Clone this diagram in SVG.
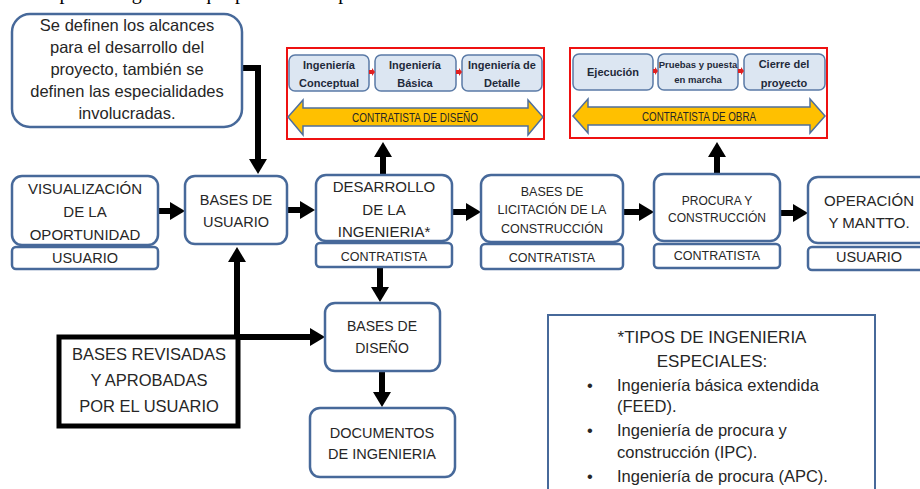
<svg xmlns="http://www.w3.org/2000/svg" width="920" height="489" viewBox="0 0 920 489">
<defs>
<style>
text{font-family:"Liberation Sans",Arial,sans-serif;fill:#262626;text-anchor:middle}
.node{fill:#fff;stroke:#47699a;stroke-width:2.5}
.sub{fill:#fff;stroke:#47699a;stroke-width:2.5}
.inner{fill:#dce6f2;stroke:#5a7aa6;stroke-width:1.5}
.red{fill:none;stroke:#ee1111;stroke-width:2}
.yel{fill:#ffc000;stroke:#4f6f9c;stroke-width:1.5}
.con{fill:none;stroke:#000;stroke-width:6}
.m{font-size:15px}
.i{font-size:11px;font-weight:bold;fill:#1f2a3a}
.n{font-size:16.5px;text-anchor:start}
</style>
<marker id="ah" markerUnits="userSpaceOnUse" viewBox="0 0 15 18" markerWidth="15" markerHeight="18" refX="1" refY="9" orient="auto">
<path d="M0,0 L15,9 L0,18 Z" fill="#000"/>
</marker>
</defs>
<rect width="920" height="489" fill="#fff"/>

<text x="20" y="-1" style="font-family:'Liberation Serif',serif;font-size:20px;text-anchor:start;fill:#000">los tipos de ingeniería que podrían ser aplicados.</text>

<g id="connectors">
<path class="con" d="M242,68 H258 V160" marker-end="url(#ah)"/>
<line class="con" x1="158" y1="211" x2="171" y2="211" marker-end="url(#ah)"/>
<line class="con" x1="287" y1="210" x2="301" y2="210" marker-end="url(#ah)"/>
<line class="con" x1="452" y1="212" x2="467" y2="212" marker-end="url(#ah)"/>
<line class="con" x1="623" y1="212" x2="640" y2="212" marker-end="url(#ah)"/>
<line class="con" x1="780" y1="213" x2="794" y2="213" marker-end="url(#ah)"/>
<line class="con" x1="383" y1="175" x2="383" y2="156" marker-end="url(#ah)"/>
<line class="con" x1="717" y1="174" x2="717" y2="156" marker-end="url(#ah)"/>
<line class="con" x1="237" y1="337" x2="237" y2="261" marker-end="url(#ah)"/>
<line class="con" x1="236" y1="337" x2="311" y2="337" marker-end="url(#ah)"/>
<line class="con" x1="380" y1="268" x2="380" y2="288" marker-end="url(#ah)"/>
<line class="con" x1="382" y1="371" x2="382" y2="393" marker-end="url(#ah)"/>
</g>

<g id="callout">
<rect x="12" y="14" width="230" height="113" rx="18" class="node"/>
<text x="127" y="31" style="font-size:16.5px">Se definen los alcances</text>
<text x="127" y="53" style="font-size:16.5px">para el desarrollo del</text>
<text x="127" y="75" style="font-size:16.5px">proyecto, también se</text>
<text x="127" y="97" style="font-size:16.5px">definen las especialidades</text>
<text x="127" y="119" style="font-size:16.5px">involucradas.</text>
</g>

<g id="contratista-diseno">
<rect x="287" y="48" width="257" height="91" class="red"/>
<rect x="289" y="55" width="80" height="36" rx="6" class="inner"/>
<rect x="375" y="55" width="81" height="36" rx="6" class="inner"/>
<rect x="462" y="55" width="80" height="36" rx="6" class="inner"/>
<path d="M369,70 h3 v-2 l3,4 l-3,4 v-2 h-3 z" fill="#e02020"/>
<path d="M456,70 h3 v-2 l3,4 l-3,4 v-2 h-3 z" fill="#e02020"/>
<text x="329" y="69" class="i">Ingeniería</text>
<text x="329" y="87" class="i">Conceptual</text>
<text x="415" y="69" class="i">Ingeniería</text>
<text x="415" y="87" class="i">Básica</text>
<text x="502" y="69" class="i">Ingeniería de</text>
<text x="502" y="87" class="i">Detalle</text>
<path class="yel" d="M288,117 L303,100 L303,108 L528,108 L528,100 L543,117 L528,135 L528,126 L303,126 L303,135 Z"/>
<text x="415" y="122" style="font-size:13px" textLength="126" lengthAdjust="spacingAndGlyphs">CONTRATISTA DE DISEÑO</text>
</g>

<g id="contratista-obra">
<rect x="570" y="48" width="257" height="90" class="red"/>
<rect x="573" y="54" width="80" height="36" rx="6" class="inner"/>
<rect x="658" y="54" width="80" height="36" rx="6" class="inner"/>
<rect x="744" y="54" width="81" height="36" rx="6" class="inner"/>
<path d="M653,69 h2 v-2 l3,4 l-3,4 v-2 h-2 z" fill="#e02020"/>
<path d="M738,69 h3 v-2 l3,4 l-3,4 v-2 h-3 z" fill="#e02020"/>
<text x="613" y="76" class="i">Ejecución</text>
<text x="698" y="68" class="i" style="font-size:9.5px">Pruebas y puesta</text>
<text x="698" y="83" class="i" style="font-size:9.5px">en marcha</text>
<text x="784" y="68" class="i">Cierre del</text>
<text x="784" y="87" class="i">proyecto</text>
<path class="yel" d="M573,116 L588,99 L588,107 L810,107 L810,99 L825,116 L810,133 L810,125 L588,125 L588,133 Z"/>
<text x="699" y="121" style="font-size:13px" textLength="114" lengthAdjust="spacingAndGlyphs">CONTRATISTA DE OBRA</text>
</g>

<g id="visualizacion">
<rect x="12" y="176" width="146" height="69" rx="10" class="node"/>
<rect x="12" y="247" width="146" height="22" rx="4" class="sub"/>
<text x="85" y="194" class="m">VISUALIZACIÓN</text>
<text x="85" y="217" class="m">DE LA</text>
<text x="85" y="240" class="m">OPORTUNIDAD</text>
<text x="85" y="263" style="font-size:14.5px">USUARIO</text>
</g>

<g id="bases-usuario">
<rect x="185" y="176" width="102" height="68" rx="10" class="node"/>
<text x="236" y="205" style="font-size:14.5px">BASES DE</text>
<text x="236" y="227" style="font-size:14.5px">USUARIO</text>
</g>

<g id="desarrollo">
<rect x="316" y="175" width="136" height="66" rx="10" class="node"/>
<rect x="316" y="243" width="136" height="24" rx="4" class="sub"/>
<text x="384" y="192" class="m">DESARROLLO</text>
<text x="384" y="215" class="m">DE LA</text>
<text x="384" y="237" class="m">INGENIERIA*</text>
<text x="384" y="261" style="font-size:12.5px">CONTRATISTA</text>
</g>

<g id="licitacion">
<rect x="481" y="175" width="142" height="67" rx="10" class="node"/>
<rect x="481" y="244" width="142" height="25" rx="4" class="sub"/>
<text x="552" y="196" style="font-size:12.5px">BASES DE</text>
<text x="552" y="214" style="font-size:12.5px">LICITACIÓN DE LA</text>
<text x="552" y="233" style="font-size:12.5px">CONSTRUCCIÓN</text>
<text x="552" y="262" style="font-size:12.5px">CONTRATISTA</text>
</g>

<g id="procura">
<rect x="654" y="174" width="126" height="67" rx="10" class="node"/>
<rect x="654" y="244" width="126" height="24" rx="4" class="sub"/>
<text x="717" y="205" style="font-size:12px">PROCURA Y</text>
<text x="717" y="222" style="font-size:12px">CONSTRUCCIÓN</text>
<text x="717" y="260" style="font-size:12.5px">CONTRATISTA</text>
</g>

<g id="operacion">
<rect x="808" y="177" width="130" height="66" rx="10" class="node"/>
<rect x="808" y="247" width="130" height="23" rx="4" class="sub"/>
<text x="869" y="206" class="m">OPERACIÓN</text>
<text x="869" y="228" class="m">Y MANTTO.</text>
<text x="869" y="262" style="font-size:14.5px">USUARIO</text>
</g>

<g id="bases-diseno">
<rect x="325" y="303" width="115" height="68" rx="10" class="node"/>
<text x="382" y="331" style="font-size:14px">BASES DE</text>
<text x="382" y="353" style="font-size:14px">DISEÑO</text>
</g>

<g id="documentos">
<rect x="310" y="408" width="145" height="69" rx="10" class="node"/>
<text x="382" y="438" style="font-size:14.5px">DOCUMENTOS</text>
<text x="382" y="459" style="font-size:14.5px">DE INGENIERIA</text>
</g>

<g id="bases-revisadas">
<rect x="59" y="337" width="179" height="89" fill="#fff" stroke="#000" stroke-width="5"/>
<text x="149" y="360" style="font-size:16.5px">BASES REVISADAS</text>
<text x="149" y="386" style="font-size:16.5px">Y APROBADAS</text>
<text x="149" y="412" style="font-size:16.5px">POR EL USUARIO</text>
</g>

<g id="nota">
<rect x="548" y="315" width="327" height="190" fill="#fff" stroke="#47699a" stroke-width="2"/>
<text x="712" y="343" style="font-size:17px">*TIPOS DE INGENIERIA</text>
<text x="712" y="367" style="font-size:17px">ESPECIALES:</text>
<text x="587" y="391" class="n">•</text>
<text x="617" y="391" class="n">Ingeniería básica extendida</text>
<text x="617" y="412" class="n">(FEED).</text>
<text x="587" y="436" class="n">•</text>
<text x="617" y="436" class="n">Ingeniería de procura y</text>
<text x="617" y="458" class="n">construcción (IPC).</text>
<text x="587" y="482" class="n">•</text>
<text x="617" y="482" class="n">Ingeniería de procura (APC).</text>
</g>
</svg>
